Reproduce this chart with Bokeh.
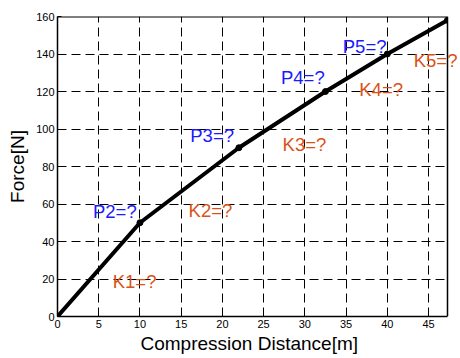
from bokeh.plotting import figure
from bokeh.models import (Range1d, FixedTicker, ColumnDataSource, Label, Span,
                          BoxAnnotation, Title)
from bokeh.embed import file_html
from bokeh.resources import INLINE

# data
disp = [0, 10, 22, 32.5, 40, 47.3]
force = [0, 50, 90, 120, 140, 158]

p_labels = ["P2=?", "P3=?", "P4=?", "P5=?"]
p_x = [4.3, 16.1, 27.1, 34.6]
p_y = [56, 96.5, 127.3, 144.2]

k_labels = ["K1=?", "K2=?", "K3=?", "K4=?", "K5=?"]
k_x = [6.7, 15.9, 27.3, 36.6, 43.2]
k_y = [18.7, 56.5, 92, 121, 136.5]

x_ticks = [0, 5, 10, 15, 20, 25, 30, 35, 40, 45]
y_ticks = [0, 20, 40, 60, 80, 100, 120, 140, 160]

X_MAX = 47.3
Y_MAX = 160
FONT = "Liberation Sans"

# axes box is 390 px wide; the frame is extended to the page edge so that
# the K5 label may overhang the right border as in the reference
BOX_W = 390
FRAME_W = 403
x_end = X_MAX * FRAME_W / BOX_W

p = figure(width=460, height=358, output_backend="svg", toolbar_location=None,
           x_range=Range1d(0, x_end), y_range=Range1d(0, Y_MAX),
           min_border_left=57, min_border_right=0, min_border_top=16, min_border_bottom=42)
p.frame_width = FRAME_W
p.frame_height = 300

p.background_fill_color = "white"
p.border_fill_color = "white"
p.outline_line_color = None

for ax, ticks in ((p.xaxis, x_ticks), (p.yaxis, y_ticks)):
    ax.ticker = FixedTicker(ticks=ticks)
    ax.axis_line_width = 1.5
    ax.axis_line_color = "black"
    ax.major_tick_in = 4
    ax.major_tick_out = 0
    ax.minor_tick_line_color = None
    ax.major_label_text_font = FONT
    ax.major_label_text_font_size = "11px"
    ax.major_label_text_color = "black"
    ax.axis_label_text_font = FONT
    ax.axis_label_text_font_size = "19px"
    ax.axis_label_text_font_style = "normal"
    ax.axis_label_text_color = "black"

p.xaxis.bounds = (0, X_MAX)
p.xaxis.major_label_standoff = 3
p.yaxis.axis_label = "Force[N]"
p.yaxis.major_label_standoff = 3
p.yaxis.axis_label_standoff = 5

# x-axis title centred under the axes box (not under the widened frame)
p.add_layout(Title(text="Compression Distance[m]", align="left", offset=83,
                   text_font=FONT, text_font_size="19px", text_font_style="normal",
                   text_color="black", standoff=0), "below")

for g in (p.xgrid, p.ygrid):
    g.grid_line_color = "black"
    g.grid_line_dash = "9 5"
    g.grid_line_width = 1
    g.grid_line_alpha = 1.0

# mask the part of the frame right of the axes box
p.add_layout(BoxAnnotation(left=X_MAX, fill_color="white", fill_alpha=1.0,
                           line_color=None, level="glyph"))
# top and right borders of the axes box
p.add_layout(Span(location=X_MAX, dimension="height", line_color="black", line_width=1.5))
p.segment(x0=[0], y0=[Y_MAX], x1=[X_MAX], y1=[Y_MAX], line_color="black", line_width=2)

src = ColumnDataSource(dict(x=disp, y=force))
p.line("x", "y", source=src, line_color="black", line_width=4)
p.scatter("x", "y", source=src, size=6, color="black")

for labels, xs, ys, col in ((p_labels, p_x, p_y, "#1a1aff"), (k_labels, k_x, k_y, "#d95319")):
    for t, x, y in zip(labels, xs, ys):
        p.add_layout(Label(x=x, y=y, text=t, text_color=col, text_font=FONT,
                           text_font_size="18.5px", text_baseline="middle",
                           text_align="left"))

open("out.html", "w").write(file_html(p, INLINE))
